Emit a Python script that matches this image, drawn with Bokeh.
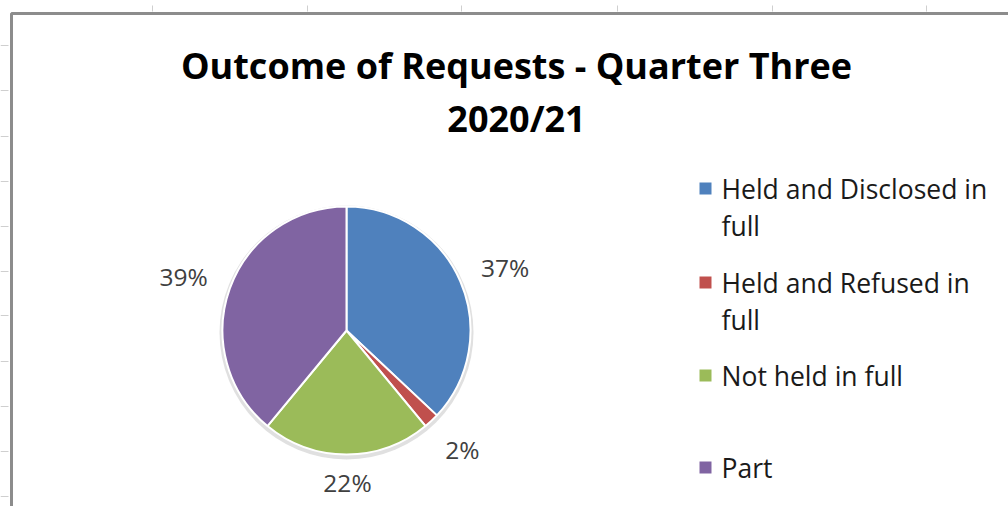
import numpy as np
from bokeh.plotting import figure
from bokeh.embed import file_html
from bokeh.resources import INLINE
from bokeh.core.properties import value
from bokeh.models import ColumnDataSource

# ---- data ----
categories = ["Held and Disclosed in full", "Held and Refused in full", "Not held in full", "Part"]
legend_lines = [["Held and Disclosed in", "full"], ["Held and Refused in", "full"], ["Not held in full"], ["Part"]]
shares = [37, 2, 22, 39]
colors = ["#4F81BD", "#C0504D", "#9BBB59", "#8064A2"]
title_lines = ["Outcome of Requests - Quarter Three", "2020/21"]

W, H = 1008, 506
FONT = "Open Sans"

p = figure(width=W, height=H, x_range=(0, W), y_range=(0, H),
           output_backend="svg", toolbar_location=None,
           x_axis_location=None, y_axis_location=None, min_border=0)
p.grid.visible = False
p.outline_line_color = None
p.background_fill_color = "white"
p.border_fill_color = "white"

def Y(py):
    return H - py

# spreadsheet cell marks outside the chart
left_marks = [45, 90, 136, 181, 226, 271, 315, 361, 406, 451, 496]
p.segment(x0=[0] * len(left_marks), y0=[Y(v) for v in left_marks],
          x1=[8] * len(left_marks), y1=[Y(v) for v in left_marks],
          line_color="#cfcfcf", line_width=1)
top_marks = [152, 307, 461, 617, 772, 926]
p.segment(x0=top_marks, y0=[Y(5)] * len(top_marks), x1=top_marks, y1=[Y(11)] * len(top_marks),
          line_color="#cfcfcf", line_width=1)

# chart border
p.line(x=[11, 11, W + 5], y=[Y(H + 5), Y(13), Y(13)], line_color="#8c8c8c", line_width=3)

# ---- pie ----
cx, cy, r = 346, Y(330), 124
vals = np.array(shares, dtype=float)
frac = vals / vals.sum()
cum = np.concatenate([[0], np.cumsum(frac)])
start = np.pi / 2 - cum[:-1] * 2 * np.pi
end = np.pi / 2 - cum[1:] * 2 * np.pi

p.circle(x=[cx], y=[cy - 2], radius=r + 3, fill_color="#d8d8d8", line_color=None, fill_alpha=0.8)
src = ColumnDataSource(dict(start=start, end=end, color=colors, cat=categories))
p.wedge(x=cx, y=cy, radius=r, start_angle="start", end_angle="end", direction="clock",
        fill_color="color", line_color="white", line_width=2, source=src)

mid = (cum[:-1] + cum[1:]) / 2 * 2 * np.pi
d = r + 33 + 16 * np.abs(np.sin(mid))
lx = cx + d * np.sin(mid) + np.sign(np.sin(mid))
ly = cy + (d - 7) * np.cos(mid) - 2
p.text(x=lx, y=ly, text=[f"{s}%" for s in shares], text_align="center", text_baseline="middle",
       text_font=value(FONT), text_font_size="24.5px", text_color="#404040")

# ---- title ----
p.text(x=[516, 516], y=[Y(65), Y(118)], text=title_lines, text_align="center", text_baseline="middle",
       text_font=value(FONT), text_font_style="bold", text_font_size="36px", text_color="black")

# ---- legend ----
entry_y = [188, 282, 375, 467]
line_gap = 37
p.rect(x=[705] * 4, y=[Y(v) for v in entry_y], width=12, height=12,
       fill_color=colors, line_color=None)
tx, ty, tt = [], [], []
for ey, lines in zip(entry_y, legend_lines):
    for i, t in enumerate(lines):
        tx.append(721)
        ty.append(Y(ey + i * line_gap))
        tt.append(t)
p.text(x=tx, y=ty, text=tt, text_align="left", text_baseline="middle",
       text_font=value(FONT), text_font_size="26.5px", text_color="#1a1a1a")

open("out.html", "w").write(file_html(p, INLINE))
